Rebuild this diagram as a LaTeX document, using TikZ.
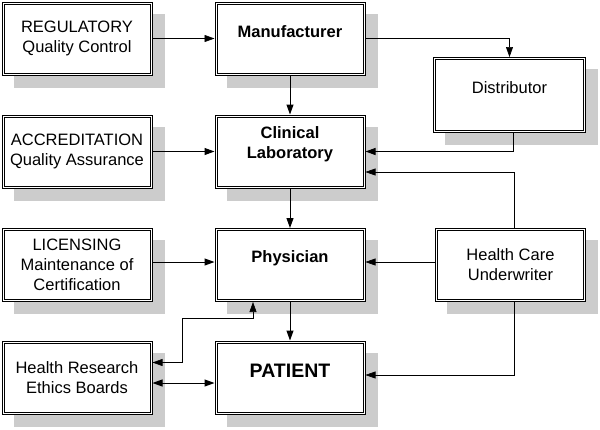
\documentclass[tikz,border=0pt]{standalone}
\usepackage{fontspec}
\setmainfont{Liberation Sans}
\usetikzlibrary{arrows.meta}
\definecolor{shadowgray}{RGB}{204,204,204}
\pgfdeclarelayer{bg}
\pgfsetlayers{bg,main}
\begin{document}
\begin{tikzpicture}[x=1pt,y=-1pt,
  txt/.style={font=\fontsize{16.5}{20}\selectfont, align=center},
  box/.style={draw=black, line width=1pt, fill=white,
    minimum width=150pt, minimum height=73pt, inner sep=2pt, txt},
  inner/.style={draw=black, line width=0.5pt},
  shadowfill/.style={fill=shadowgray},
  thin/.style={line width=0.6pt, -{Triangle[length=10pt,width=7pt]}},
  thick/.style={line width=1pt, -{Triangle[length=10pt,width=7pt]}},
  lbl/.style={txt, yshift=7pt}
]
\useasboundingbox (0,0) rectangle (600,429);

\node[box] (reg) at (77,38.5) {REGULATORY\\Quality Control};
\node[box] (acc) at (77,151.5) {ACCREDITATION\\Quality Assurance};
\node[box] (lic) at (77,265) {LICENSING\\Maintenance of\\Certification};
\node[box] (hre) at (77,377.5) {Health Research\\Ethics Boards};
\node[box] (hcu) at (510.5,265) {Health Care\\Underwriter};
\node[box, minimum width=152pt, minimum height=75pt] (dist) at (509.5,95) {};
\node[box] (man) at (290,38.5) {};
\node[box] (cl) at (290,151.5) {};
\node[box] (phy) at (290,265) {};
\node[box] (pat) at (290,377.5) {};

\node[lbl] (disttxt) at (dist) {Distributor};
\node[lbl] (mantxt) at (man) {\textbf{Manufacturer}};
\node[lbl] (cltxt) at (cl) {\textbf{Clinical}\\\textbf{Laboratory}};
\node[lbl] (phytxt) at (phy) {\textbf{Physician}};
\node[lbl, font=\fontsize{19.5}{23}\selectfont] (pattxt) at (pat) {\textbf{PATIENT}};

\foreach \n in {reg,acc,lic,hre,hcu,dist,man,cl,phy,pat}{
  \draw[inner] ([shift={(2.6pt,-2.6pt)}]\n.north west) rectangle ([shift={(-2.6pt,2.6pt)}]\n.south east);
  \begin{pgfonlayer}{bg}
    \fill[shadowfill] ([shift={(12pt,-12pt)}]\n.north west) rectangle ([shift={(12pt,-12pt)}]\n.south east);
  \end{pgfonlayer}
}

% connectors
\draw[thin] (reg.east) -- (man.west);
\draw[thin] (man.east) -| (dist.north);
\draw[thick] (man.south) -- (cl.north);
\draw[thick] (acc.east) -- (cl.west);
\draw[thick] ([xshift=4pt]dist.south) |- (cl.east);
\draw[thin] ([xshift=3.5pt]hcu.north) |- ([yshift=-20.5pt]cl.east);
\draw[thick] (cl.south) -- (phy.north);
\draw[thick] ([yshift=3pt]lic.east) -- ([yshift=3pt]phy.west);
\draw[thin] ([yshift=3pt]hcu.west) -- ([yshift=3pt]phy.east);
\draw[thick] (phy.south) -- (pat.north);
\draw[thin] ([xshift=3.5pt]hcu.south) |- ([yshift=2.5pt]pat.east);
\draw[thick, {Triangle[length=10pt,width=7pt]}-{Triangle[length=10pt,width=7pt]}] ([yshift=-5.5pt]hre.east) -- ([yshift=-5.5pt]pat.west);
\coordinate (bendA) at (182,318);
\draw[thin, {Triangle[length=10pt,width=7pt]}-{Triangle[length=10pt,width=7pt]}] ([yshift=15pt]hre.east) -| (bendA) -| ([xshift=-37pt]phy.south);
\end{tikzpicture}
\end{document}
